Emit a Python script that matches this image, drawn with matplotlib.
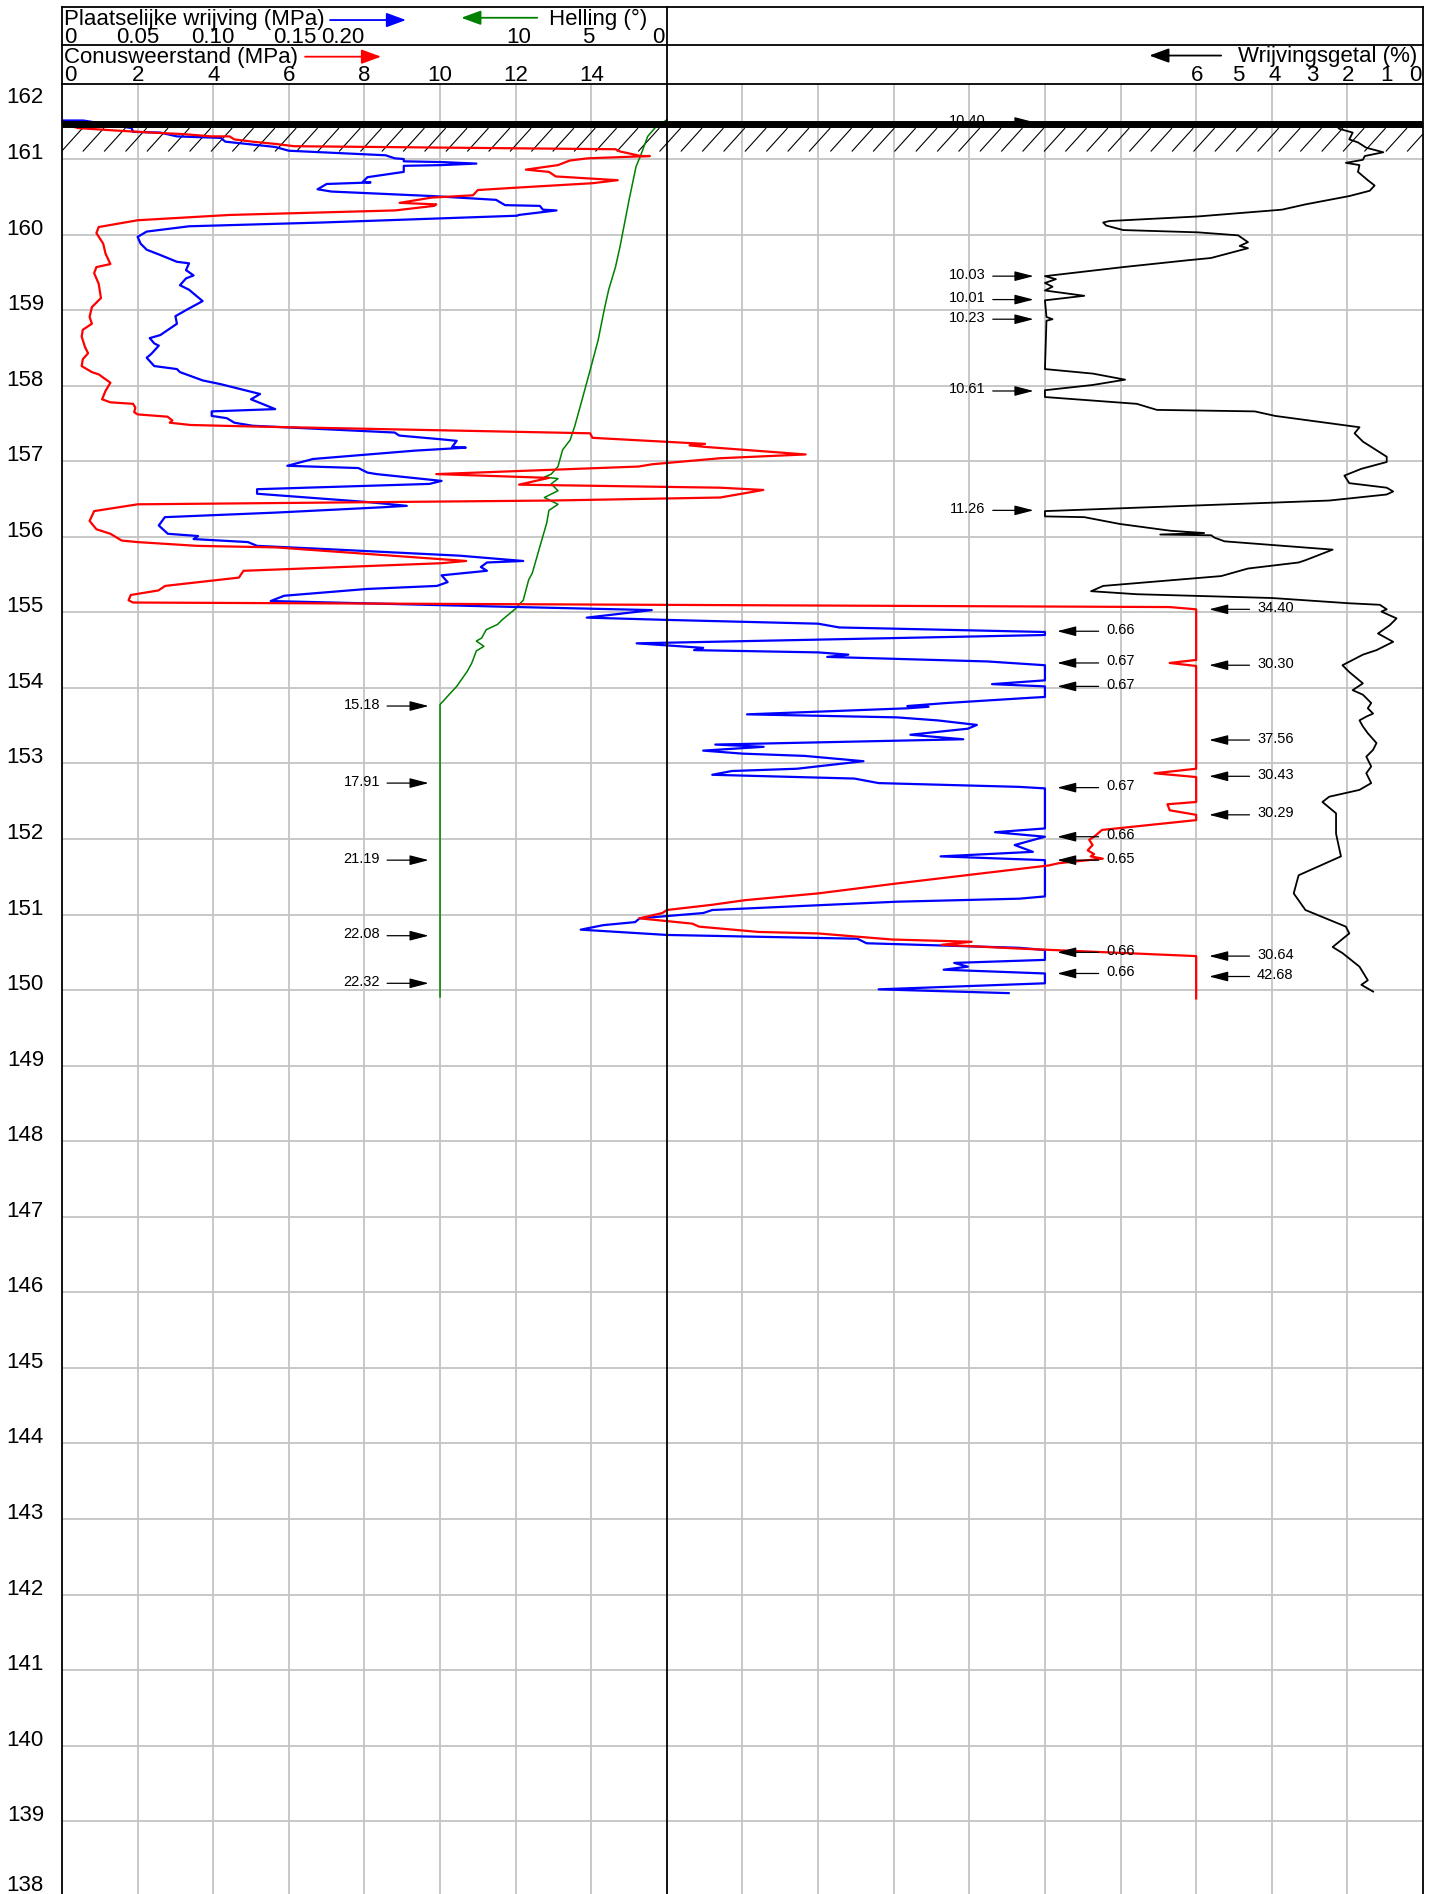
import numpy as np
import matplotlib
matplotlib.use('Agg')
import matplotlib.pyplot as plt
from matplotlib.collections import LineCollection
import matplotlib.transforms as mtransforms

plt.rcParams['font.family'] = ['Liberation Sans', 'DejaVu Sans']

# ---- sondering data (diepte in m NAP) ----
qc_depth = [161.47, 161.41, 161.38, 161.35, 161.33, 161.30, 161.30, 161.26, 161.23, 161.20, 161.17,
            161.13, 161.10, 161.08, 161.04, 161.04, 161.01, 160.98, 160.92, 160.86, 160.83, 160.77,
            160.72, 160.68, 160.62, 160.59, 160.52, 160.49, 160.42, 160.40, 160.38, 160.32, 160.26,
            160.19, 160.10, 160.02, 159.88, 159.75, 159.61, 159.57, 159.49, 159.35, 159.16, 159.04,
            158.91, 158.82, 158.74, 158.65, 158.51, 158.43, 158.35, 158.26, 158.18, 158.15, 158.04,
            157.93, 157.82, 157.78, 157.76, 157.71, 157.65, 157.62, 157.59, 157.54, 157.51, 157.48,
            157.46, 157.37, 157.31, 157.23, 157.21, 157.19, 157.09, 157.04, 156.96, 156.93, 156.83,
            156.78, 156.69, 156.65, 156.62, 156.52, 156.48, 156.43, 156.34, 156.21, 156.10, 156.04,
            155.95, 155.93, 155.88, 155.86, 155.68, 155.65, 155.55, 155.46, 155.35, 155.29, 155.23,
            155.16, 155.13, 155.07, 155.04, 154.37, 154.33, 154.29, 152.93, 152.87, 152.82, 152.49,
            152.46, 152.38, 152.32, 152.25, 152.12, 152.03, 151.99, 151.92, 151.85, 151.80, 151.77,
            151.74, 151.68, 151.65, 151.41, 151.28, 151.19, 151.13, 151.06, 151.02, 150.95, 150.88,
            150.84, 150.77, 150.75, 150.67, 150.64, 150.60, 150.55, 150.45, 149.89]
qc_val = [0.0, 0.43, 1.34, 2.37, 3.22, 3.95, 4.43, 4.56, 5.04, 5.65, 6.14,
          14.64, 14.76, 14.95, 15.31, 15.55, 13.91, 13.43, 13.12, 12.27, 12.88, 13.06,
          14.70, 14.03, 11.97, 11.00, 10.87, 9.78, 8.93, 9.90, 9.84, 8.81, 4.43,
          2.00, 0.97, 0.91, 1.09, 1.15, 1.28, 0.91, 0.85, 0.97, 1.03, 0.79,
          0.73, 0.79, 0.55, 0.52, 0.61, 0.69, 0.55, 0.52, 0.79, 0.97, 1.28,
          1.15, 1.06, 1.28, 1.88, 1.94, 1.91, 2.00, 2.79, 2.92, 2.85, 3.40,
          5.04, 13.97, 14.03, 17.01, 16.60, 17.01, 19.67, 17.41, 15.61, 15.25, 9.90,
          12.88, 12.09, 17.41, 18.55, 17.41, 12.94, 2.00, 0.85, 0.73, 0.91, 1.28,
          1.58, 2.00, 3.58, 5.65, 10.69, 10.02, 4.80, 4.68, 2.73, 2.55, 1.82,
          1.76, 1.88, 29.3, 30.0, 30.0, 29.3, 30.0, 30.0, 28.9, 30.0, 30.0,
          29.24, 29.3, 30.0, 30.0, 27.51, 27.30, 27.17, 27.26, 27.13, 27.30, 27.21,
          27.53, 26.37, 26.10, 22.06, 20.0, 18.06, 17.21, 16.0, 15.88, 15.27, 16.67,
          16.85, 18.42, 20.0, 21.94, 24.06, 23.27, 25.3, 30.0, 30.0]

fs_depth = [161.51, 161.51, 161.41, 161.36, 161.35, 161.30, 161.28, 161.23, 161.16, 161.11, 161.05,
            161.01, 161.00, 160.97, 160.96, 160.94, 160.92, 160.91, 160.83, 160.76, 160.70, 160.69,
            160.67, 160.60, 160.57, 160.51, 160.46, 160.39, 160.38, 160.33, 160.32, 160.26, 160.25,
            160.16, 160.11, 160.04, 159.97, 159.88, 159.80, 159.73, 159.64, 159.62, 159.53, 159.46,
            159.42, 159.33, 159.27, 159.12, 159.00, 158.92, 158.82, 158.67, 158.63, 158.56, 158.53,
            158.42, 158.37, 158.26, 158.22, 158.18, 158.07, 158.02, 157.96, 157.89, 157.82, 157.69,
            157.66, 157.60, 157.57, 157.51, 157.47, 157.38, 157.34, 157.29, 157.27, 157.19, 157.18,
            157.14, 157.03, 156.94, 156.91, 156.85, 156.83, 156.74, 156.70, 156.63, 156.57, 156.46,
            156.41, 156.39, 156.32, 156.26, 156.15, 156.04, 156.01, 155.97, 155.93, 155.88, 155.84,
            155.75, 155.68, 155.66, 155.60, 155.55, 155.49, 155.40, 155.35, 155.31, 155.22, 155.15,
            155.07, 155.03, 154.93, 154.90, 154.85, 154.80, 154.74, 154.70, 154.59, 154.53, 154.50,
            154.47, 154.44, 154.41, 154.35, 154.30, 154.10, 154.05, 154.02, 153.88, 153.87, 153.80,
            153.76, 153.75, 153.73, 153.65, 153.61, 153.57, 153.51, 153.46, 153.38, 153.32, 153.25,
            153.22, 153.17, 153.13, 153.10, 153.03, 152.93, 152.90, 152.85, 152.80, 152.74, 152.69,
            152.67, 152.14, 152.09, 152.03, 151.92, 151.83, 151.77, 151.72, 151.24, 151.21, 151.17,
            151.06, 151.02, 150.95, 150.90, 150.86, 150.80, 150.73, 150.68, 150.62, 150.56, 150.53,
            150.40, 150.36, 150.31, 150.27, 150.22, 150.09, 150.01, 149.96]
fs_val = [0.000, 0.014, 0.046, 0.047, 0.065, 0.076, 0.105, 0.108, 0.141, 0.150, 0.214,
          0.220, 0.226, 0.226, 0.251, 0.274, 0.251, 0.226, 0.226, 0.202, 0.199, 0.204,
          0.175, 0.169, 0.178, 0.245, 0.287, 0.293, 0.316, 0.318, 0.327, 0.302, 0.301,
          0.172, 0.084, 0.056, 0.050, 0.052, 0.056, 0.065, 0.076, 0.084, 0.082, 0.087,
          0.082, 0.078, 0.084, 0.093, 0.082, 0.075, 0.076, 0.065, 0.058, 0.061, 0.064,
          0.059, 0.056, 0.061, 0.076, 0.078, 0.093, 0.105, 0.117, 0.131, 0.125, 0.141,
          0.099, 0.099, 0.109, 0.114, 0.126, 0.220, 0.223, 0.251, 0.261, 0.258, 0.267,
          0.233, 0.166, 0.149, 0.196, 0.202, 0.208, 0.251, 0.243, 0.129, 0.129, 0.202,
          0.228, 0.211, 0.141, 0.068, 0.064, 0.070, 0.090, 0.087, 0.123, 0.129, 0.172,
          0.263, 0.305, 0.281, 0.277, 0.281, 0.251, 0.255, 0.248, 0.202, 0.147, 0.138,
          0.302, 0.390, 0.347, 0.400, 0.500, 0.514, 0.650, 0.650, 0.380, 0.424, 0.418,
          0.500, 0.520, 0.506, 0.612, 0.650, 0.650, 0.615, 0.650, 0.650, 0.641, 0.585,
          0.559, 0.573, 0.559, 0.453, 0.552, 0.579, 0.605, 0.599, 0.561, 0.596, 0.432,
          0.464, 0.424, 0.450, 0.491, 0.530, 0.486, 0.443, 0.430, 0.524, 0.540, 0.633,
          0.650, 0.650, 0.617, 0.650, 0.630, 0.642, 0.581, 0.650, 0.650, 0.633, 0.552,
          0.430, 0.424, 0.382, 0.379, 0.358, 0.343, 0.400, 0.526, 0.532, 0.633, 0.650,
          0.650, 0.590, 0.599, 0.583, 0.650, 0.650, 0.540, 0.626]

rf_depth = [161.44, 161.40, 161.35, 161.26, 161.22, 161.15, 161.09, 161.04, 160.99, 160.95, 160.92,
            160.83, 160.72, 160.65, 160.58, 160.51, 160.40, 160.33, 160.24, 160.18, 160.16, 160.12,
            160.06, 160.03, 159.99, 159.90, 159.85, 159.82, 159.69, 159.66, 159.57, 159.45, 159.41,
            159.36, 159.31, 159.26, 159.19, 159.13, 158.91, 158.88, 158.86, 158.22, 158.16, 158.08,
            158.01, 157.94, 157.85, 157.76, 157.68, 157.66, 157.60, 157.45, 157.37, 157.26, 157.06,
            156.99, 156.90, 156.81, 156.71, 156.65, 156.60, 156.56, 156.48, 156.34, 156.27, 156.26,
            156.17, 156.08, 156.05, 156.03, 156.02, 155.99, 155.94, 155.83, 155.69, 155.66, 155.58,
            155.48, 155.35, 155.28, 155.24, 155.19, 155.12, 155.10, 155.04, 155.01, 154.92, 154.83,
            154.72, 154.61, 154.50, 154.44, 154.30, 154.21, 154.06, 153.97, 153.91, 153.80, 153.73,
            153.66, 153.62, 153.57, 153.49, 153.40, 153.27, 153.18, 153.09, 152.96, 152.87, 152.74,
            152.65, 152.56, 152.49, 152.34, 152.07, 151.77, 151.52, 151.28, 151.06, 150.84, 150.75,
            150.57, 150.49, 150.31, 150.13, 150.07, 149.98]
rf_val = [2.30, 2.21, 1.86, 1.95, 1.72, 1.50, 1.05, 1.54, 1.59, 2.04, 1.68,
          1.72, 1.46, 1.28, 1.41, 1.95, 3.11, 3.73, 5.96, 8.29, 8.46, 8.38,
          7.93, 5.96, 4.89, 4.63, 4.85, 4.63, 5.61, 6.23, 7.93, 10.0, 9.71,
          10.0, 9.80, 10.0, 8.96, 10.0, 9.96, 9.80, 9.96, 10.0, 8.73, 7.88,
          8.73, 10.0, 10.0, 7.57, 7.04, 4.45, 3.91, 1.68, 1.81, 1.59, 0.96,
          0.96, 1.63, 2.08, 1.95, 0.96, 0.79, 0.96, 2.48, 10.0, 10.0, 8.96,
          8.02, 6.68, 5.79, 6.95, 5.60, 5.52, 5.25, 2.39, 3.11, 3.29, 4.63,
          5.34, 8.46, 8.78, 7.57, 4.00, 1.95, 1.14, 0.96, 1.10, 0.70, 0.88,
          1.19, 0.79, 1.23, 1.59, 2.13, 1.95, 1.59, 1.86, 1.59, 1.37, 1.46,
          1.32, 1.50, 1.68, 1.59, 1.46, 1.23, 1.32, 1.50, 1.37, 1.50, 1.37,
          1.68, 2.48, 2.66, 2.30, 2.30, 2.17, 3.29, 3.42, 3.11, 2.04, 1.95,
          2.39, 2.13, 1.68, 1.46, 1.63, 1.32]

hel_depth = [161.52, 161.41, 161.30, 161.05, 160.90, 160.46, 160.15, 159.84, 159.57, 159.27, 159.00,
             158.60, 158.21, 157.77, 157.46, 157.28, 157.15, 156.93, 156.83, 156.79, 156.77, 156.70,
             156.61, 156.52, 156.43, 156.35, 156.18, 155.87, 155.52, 155.43, 155.16, 155.12, 155.05,
             154.90, 154.84, 154.77, 154.66, 154.62, 154.55, 154.49, 154.33, 154.22, 154.02, 153.89,
             153.78, 149.91]
hel_val = [0.0, 0.8, 1.27, 1.73, 2.04, 2.5, 2.8, 3.1, 3.4, 3.85, 4.15,
           4.55, 5.07, 5.67, 6.1, 6.4, 6.9, 7.2, 7.65, 8.1, 7.2, 7.65,
           7.2, 8.1, 7.2, 7.8, 7.95, 8.4, 8.9, 9.14, 9.5, 9.7, 10.0,
           10.9, 11.2, 11.95, 12.25, 12.6, 12.1, 12.6, 12.9, 13.2, 13.9, 14.5,
           15.0, 15.0]

# waarden buiten de schaal
qc_ann_depth = [155.04, 154.30, 153.31, 152.83, 152.32, 150.45, 150.18]
qc_ann_text = ['34.40', '30.30', '37.56', '30.43', '30.29', '30.64', '42.68']
fs_ann_depth = [154.75, 154.33, 154.02, 152.68, 152.03, 151.72, 150.50, 150.22]
fs_ann_text = ['0.66', '0.67', '0.67', '0.67', '0.66', '0.65', '0.66', '0.66']
rf_ann_depth = [161.49, 159.45, 159.14, 158.88, 157.93, 156.35]
rf_ann_text = ['10.40', '10.03', '10.01', '10.23', '10.61', '11.26']
hel_ann_depth = [153.76, 152.74, 151.72, 150.72, 150.09]
hel_ann_text = ['15.18', '17.91', '21.19', '22.08', '22.32']

maaiveld = 161.46
depth_ticks = list(range(138, 163))

# ---- figuur ----
W, H = 1430, 1894
PX = 75.55                      # pixels per meter
Y_TOP = 162 + (83.5 - 7) / PX
Y_BOT = 162 - (H - 83.5) / PX

fig = plt.figure(figsize=(W / 100, H / 100), dpi=100)
ax = fig.add_axes([62 / W, 0, (1423 - 62) / W, (H - 7) / H])
ax.set_xlim(0, 36)
ax.set_ylim(Y_BOT, Y_TOP)
ax.axis('off')

grid_c = '#c4c4c4'
ax.vlines([x for x in range(2, 36, 2) if x != 16], Y_BOT, 162, color=grid_c, lw=1.3, zorder=1)
ax.hlines(range(139, 162), 0, 36, color=grid_c, lw=1.3, zorder=1)

# kaders
kw = dict(color='black', lw=1.3, zorder=6, clip_on=False)
ax.plot([0, 0], [Y_BOT, Y_TOP], **kw)
ax.plot([36, 36], [Y_BOT, Y_TOP], **kw)
ax.plot([16, 16], [Y_BOT, Y_TOP], **kw)
for yy in (Y_TOP, 162 + (83.5 - 45) / PX, 162):
    ax.plot([0, 36], [yy, yy], **kw)

# maaiveld met arcering
segs = []
x0 = 0.55 - 2 * 0.565
while x0 < 37:
    segs.append([(x0, 161.10), (x0 + 0.56, 161.41)])
    x0 += 0.565
ax.add_collection(LineCollection(segs, colors='black', linewidths=0.8, zorder=2))
ax.plot([0, 36], [maaiveld, maaiveld], color='black', lw=5, solid_capstyle='butt', zorder=5)

# curves (omgerekend naar de conusschaal 0-36)
qc_x = np.minimum(qc_val, 30)
fs_x = np.minimum(fs_val, 0.65) * 40
rf_x = 36 - np.minimum(rf_val, 10)
hel_x = 16 - 0.4 * np.minimum(hel_val, 15)
ax.plot(rf_x, rf_depth, color='black', lw=1.3, zorder=3)
ax.plot(hel_x, hel_depth, color='green', lw=1.1, zorder=3)
ax.plot(fs_x, fs_depth, color='blue', lw=1.6, zorder=3)
ax.plot(qc_x, qc_depth, color='red', lw=1.6, zorder=3)

# annotaties buiten de schaal
ap = dict(arrowstyle='-|>,head_length=0.58,head_width=0.15', color='black', lw=0.9,
          shrinkA=0, shrinkB=0, mutation_scale=20)
fs_small = 10.5
for d, t in zip(rf_ann_depth, rf_ann_text):
    ax.annotate('', xy=(25.70, d), xytext=(24.62, d), arrowprops=ap, zorder=4)
    ax.text(24.42, d + 0.02, t, ha='right', va='center', fontsize=fs_small, zorder=4)
for d, t in zip(hel_ann_depth, hel_ann_text):
    ax.annotate('', xy=(9.70, d), xytext=(8.60, d), arrowprops=ap, zorder=4)
    ax.text(8.41, d + 0.02, t, ha='right', va='center', fontsize=fs_small, zorder=4)
for d, t in zip(qc_ann_depth, qc_ann_text):
    ax.annotate('', xy=(30.34, d), xytext=(31.41, d), arrowprops=ap, zorder=4)
    ax.text(31.61, d + 0.02, t, ha='left', va='center', fontsize=fs_small, zorder=4)
for d, t in zip(fs_ann_depth, fs_ann_text):
    ax.annotate('', xy=(26.32, d), xytext=(27.42, d), arrowprops=ap, zorder=4)
    ax.text(27.62, d + 0.02, t, ha='left', va='center', fontsize=fs_small, zorder=4)

# kop met schalen
fh = 16
hp = dict(arrowstyle='-|>,head_length=0.6,head_width=0.22', lw=1.3,
          shrinkA=0, shrinkB=0, mutation_scale=20)
ax.text(0.05, 162.77, 'Plaatselijke wrijving (MPa)', fontsize=fh, va='baseline')
ax.annotate('', xy=(9.10, 162.84), xytext=(7.09, 162.84), arrowprops=dict(hp, color='blue'))
ax.annotate('', xy=(10.56, 162.87), xytext=(12.57, 162.87), arrowprops=dict(hp, color='green'))
ax.text(12.88, 162.77, 'Helling (°)', fontsize=fh, va='baseline')
ax.text(0.05, 162.27, 'Conusweerstand (MPa)', fontsize=fh, va='baseline')
ax.annotate('', xy=(8.44, 162.355), xytext=(6.43, 162.355), arrowprops=dict(hp, color='red'))
ax.annotate('', xy=(28.76, 162.37), xytext=(30.66, 162.37), arrowprops=dict(hp, color='black'))
ax.text(35.85, 162.285, 'Wrijvingsgetal (%)', fontsize=fh, va='baseline', ha='right')

fs_pos = [0.05, 2, 4, 6.16, 7.43]
fs_lab = ['0', '0.05', '0.10', '0.15', '0.20']
for x, t in zip(fs_pos, fs_lab):
    ax.text(x, 162.53, t, fontsize=fh, va='baseline', ha='left' if t == '0' else 'center')
hel_pos = [12.09, 13.92, 15.95]
hel_lab = ['10', '5', '0']
for x, t in zip(hel_pos, hel_lab):
    ax.text(x, 162.53, t, fontsize=fh, va='baseline', ha='right' if x > 15 else 'center')
qc_pos = [0.05, 2, 4, 6, 8, 10, 12, 14]
qc_lab = ['0', '2', '4', '6', '8', '10', '12', '14']
for x, t in zip(qc_pos, qc_lab):
    ax.text(x, 162.03, t, fontsize=fh, va='baseline', ha='left' if x < 1 else 'center')
rf_pos = [30.03, 31.10, 32.09, 33.07, 34.03, 35.04, 35.95]
rf_lab = ['6', '5', '4', '3', '2', '1', '0']
for x, t in zip(rf_pos, rf_lab):
    ax.text(x, 162.03, t, fontsize=fh, va='baseline', ha='right' if x > 35.5 else 'center')

# dieptelabels links
trans = mtransforms.blended_transform_factory(fig.transFigure, ax.transData)
for d in depth_ticks:
    if d == 162:
        yy = 161.74
    elif d == 138:
        yy = Y_BOT + 3 / PX
    else:
        yy = d
    ax.text(44 / W, yy, str(d), transform=trans, ha='right', va='baseline', fontsize=16)

fig.savefig('out.png', dpi=100)
